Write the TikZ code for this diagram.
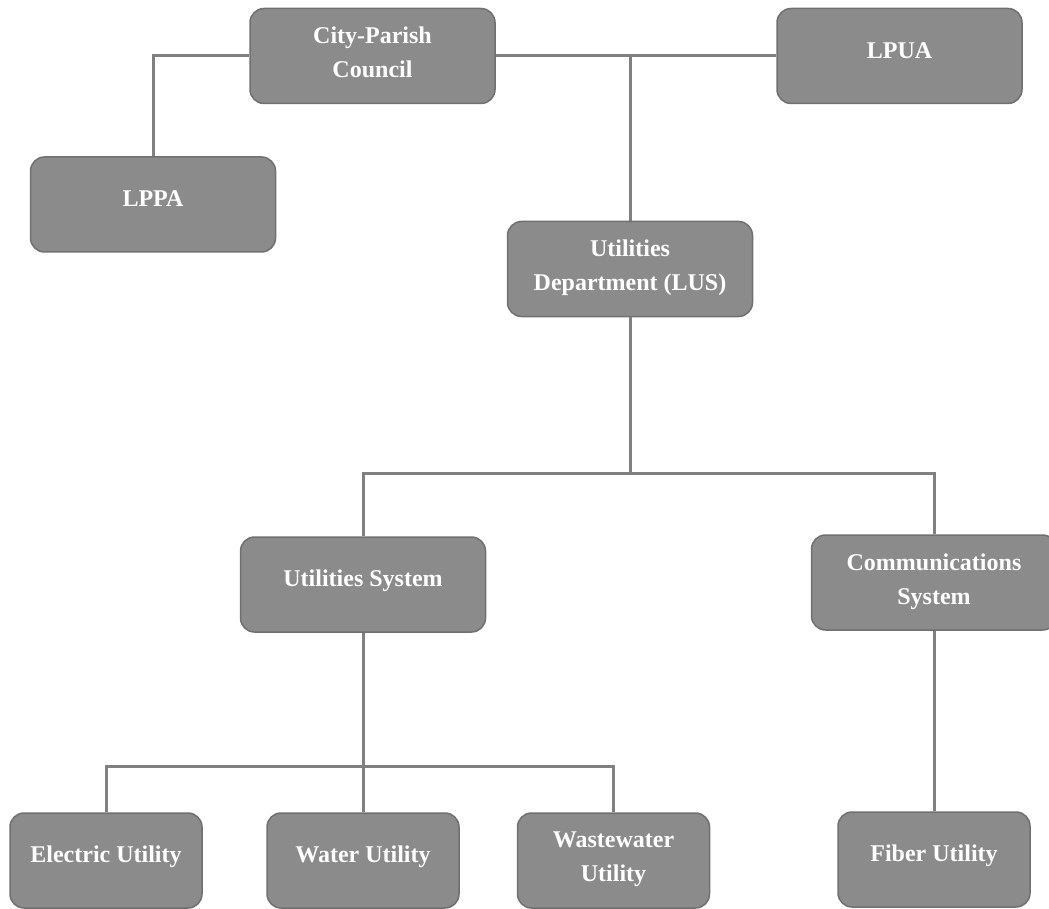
\documentclass[tikz,border=0pt]{standalone}
\usepackage{fontspec}
\setmainfont{Liberation Serif}
\definecolor{orgfill}{RGB}{139,139,139}
\definecolor{orgedge}{RGB}{112,112,112}
\definecolor{orgline}{RGB}{128,128,128}
\tikzset{
  orgBox/.style={
    rectangle,
    rounded corners=14pt,
    draw=orgedge,
    fill=orgfill,
    line width=1.5pt,
    minimum width=245pt,
    minimum height=95pt,
    inner sep=0pt
  },
  orgSmall/.style={
    orgBox,
    minimum width=192pt
  },
  orgText/.style={
    text=white,
    font=\fontsize{24}{34}\selectfont\bfseries,
    align=center,
    execute at begin node=\strut,
    execute at end node=\strut,
    yshift=4.5pt
  },
  orgTwo/.style={
    orgText,
    yshift=-6pt
  },
  orgLink/.style={
    draw=orgline,
    line width=3pt
  }
}

\begin{document}
\begin{tikzpicture}[x=1pt, y=-1pt]
  \useasboundingbox (0,0) rectangle (1049,909);
  \clip (0,0) rectangle (1049,909);

  % top row
  \node[orgBox, label={[orgTwo]center:{City-Parish\\Council}}]
    (council) at (372.5,56) {};
  \node[orgBox, label={[orgText]center:LPUA}]
    (lpua) at (899.5,56) {};
  \node[orgBox, label={[orgText]center:LPPA}]
    (lppa) at (153,204.5) {};
  \node[orgBox, label={[orgTwo]center:{Utilities\\Department (LUS)}}]
    (lus) at (630,269) {};

  % systems
  \node[orgBox, label={[orgText]center:Utilities System}]
    (usys) at (363,584.5) {};
  \node[orgBox, label={[orgTwo]center:{Communications\\System}}]
    (csys) at (934,582.5) {};

  % utilities
  \node[orgSmall, label={[orgText]center:Electric Utility}]
    (elec) at (106,860.5) {};
  \node[orgSmall, label={[orgText]center:Water Utility}]
    (water) at (363,860.5) {};
  \node[orgSmall, label={[orgTwo]center:{Wastewater\\Utility}}]
    (waste) at (613.5,860.5) {};
  \node[orgSmall, label={[orgText]center:Fiber Utility}]
    (fiber) at (934,859.5) {};

  \coordinate (topJoin) at (630,56);
  \coordinate (sysJoin) at (630,473);
  \coordinate (utilJoin) at (363,766);

  \draw[orgLink] (lppa.north) |- (council.west);
  \draw[orgLink] (council.east) -- (lpua.west);
  \draw[orgLink] (topJoin) -- (lus.north);
  \draw[orgLink] (lus.south) -- (sysJoin);
  \draw[orgLink] (usys.north) |- (sysJoin) -| (csys.north);
  \draw[orgLink] (usys.south) -- (water.north);
  \draw[orgLink] (elec.north) |- (utilJoin) -| (waste.north);
  \draw[orgLink] (csys.south) -- (fiber.north);
\end{tikzpicture}
\end{document}
